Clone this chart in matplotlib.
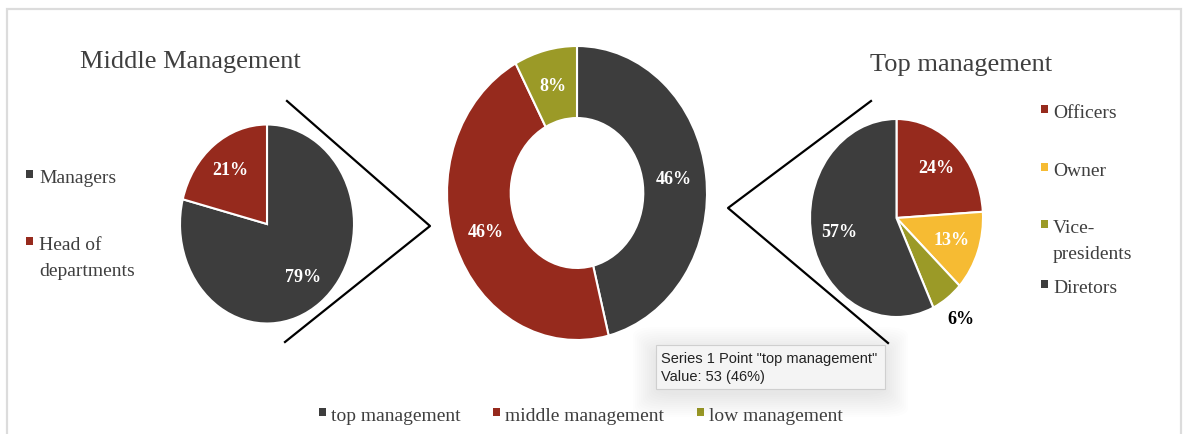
import matplotlib
matplotlib.use("Agg")
import matplotlib.pyplot as plt
from matplotlib.patches import Rectangle, FancyBboxPatch
from matplotlib.lines import Line2D
import numpy as np

# colours
DARK = "#3d3d3d"
RED = "#962a1d"
OLIVE = "#9b9a27"
YELLOW = "#f6bb33"
TEXT = "#3f3f3f"

# data
main_labels = ["top management", "middle management", "low management"]
main_values = [53, 53, 9]
main_colors = [DARK, RED, OLIVE]

mid_labels = ["Managers", "Head of\ndepartments"]
mid_values = [79, 21]
mid_colors = [DARK, RED]

top_labels = ["Officers", "Owner", "Vice-\npresidents", "Diretors"]
top_values = [24, 13, 6, 57]
top_colors = [RED, YELLOW, OLIVE, DARK]

tooltip_lines = ['Series 1 Point "top management"', "Value: 53 (46%)"]

W, H = 1183, 434
fig = plt.figure(figsize=(W / 100, H / 100), dpi=100)
SERIF = "Liberation Serif"


def fx(x):
    return x / W


def fy(y):
    return 1 - y / H


def pie_axes(cx, cy, rx, ry):
    return fig.add_axes([fx(cx - rx), fy(cy + ry), 2 * rx / W, 2 * ry / H])


def draw_pie(ax, values, colors, pctdist, width=None):
    wedgeprops = dict(edgecolor="white", linewidth=1.5)
    if width is not None:
        wedgeprops["width"] = width
    wedges, _, autotexts = ax.pie(values, colors=colors, startangle=90,
                                  counterclock=False, autopct="%.0f%%",
                                  pctdistance=pctdist, wedgeprops=wedgeprops,
                                  textprops=dict(color="white", family=SERIF,
                                                 fontweight="bold", fontsize=13))
    ax.set_aspect("auto")
    ax.set_xlim(-1, 1)
    ax.set_ylim(-1, 1)
    ax.axis("off")
    return wedges, autotexts


# frame
fig.add_artist(Rectangle((fx(7), fy(440)), (1181 - 7) / W, (440 - 9) / H,
                         transform=fig.transFigure, fill=False,
                         edgecolor="#dcdcdc", linewidth=1.6))

# connector lines
for pts in ([(287, 101), (430, 226), (285, 342)],
            [(871, 101), (728, 208), (888, 343)]):
    xs = [fx(p[0]) for p in pts]
    ys = [fy(p[1]) for p in pts]
    fig.add_artist(Line2D(xs, ys, transform=fig.transFigure, color="black",
                          linewidth=1.6))

# left pie
ax1 = pie_axes(267, 224, 87, 99.5)
draw_pie(ax1, mid_values, mid_colors, 0.68)

# centre donut
ax2 = pie_axes(577, 193, 130, 147)
draw_pie(ax2, main_values, main_colors, 0.75, width=0.49)

# right pie
ax3 = pie_axes(896.5, 218, 86.5, 99)
wedges3, texts3 = draw_pie(ax3, top_values, top_colors, 0.68)
w = wedges3[2]
ang = np.deg2rad((w.theta1 + w.theta2) / 2)
texts3[2].set_position((1.27 * np.cos(ang), 1.27 * np.sin(ang)))
texts3[2].set_color("black")

# titles
fig.text(fx(190), fy(68), "Middle Management", family=SERIF, fontsize=19,
         color=TEXT, ha="center", va="baseline")
fig.text(fx(961), fy(71), "Top management", family=SERIF, fontsize=19,
         color=TEXT, ha="center", va="baseline")


def legend_item(mx, tx, base, label, color):
    fig.add_artist(Rectangle((fx(mx), fy(base - 5)), 7 / W, 8 / H,
                             transform=fig.transFigure, facecolor=color,
                             edgecolor="none"))
    for i, line in enumerate(label.split("\n")):
        fig.text(fx(tx), fy(base + 26 * i), line, family=SERIF, fontsize=14,
                 color=TEXT, ha="left", va="baseline")


for label, color, base in zip(mid_labels, mid_colors, [183, 250]):
    legend_item(26, 39, base, label, color)

for label, color, base in zip(top_labels, top_colors, [118, 176, 233, 293]):
    legend_item(1041, 1053, base, label, color)

for label, color, mx in zip(main_labels, main_colors, [319, 493, 697]):
    legend_item(mx, mx + 12, 421, label, color)

# tooltip with soft shadow
bx, by, bw, bh = 656, 345, 229, 44
for i in range(12):
    pad = 1 + i * 2.0
    fig.add_artist(FancyBboxPatch((fx(bx - pad), fy(by + bh + 5 + pad)),
                                  (bw + 2 * pad) / W, (bh + 2 * pad) / H,
                                  boxstyle="round,pad=0,rounding_size=0.02",
                                  transform=fig.transFigure,
                                  facecolor="black", edgecolor="none",
                                  alpha=0.007))
fig.add_artist(Rectangle((fx(bx), fy(by + bh)), bw / W, bh / H,
                         transform=fig.transFigure, facecolor="#f4f4f4",
                         edgecolor="#cfcfcf", linewidth=0.8))
fig.text(fx(661), fy(363), tooltip_lines[0], family="Liberation Sans",
         fontsize=10.5, color="#222222", va="baseline")
fig.text(fx(661), fy(381), tooltip_lines[1], family="Liberation Sans",
         fontsize=10.5, color="#222222", va="baseline")

fig.savefig("out.png", dpi=100, facecolor="white")
